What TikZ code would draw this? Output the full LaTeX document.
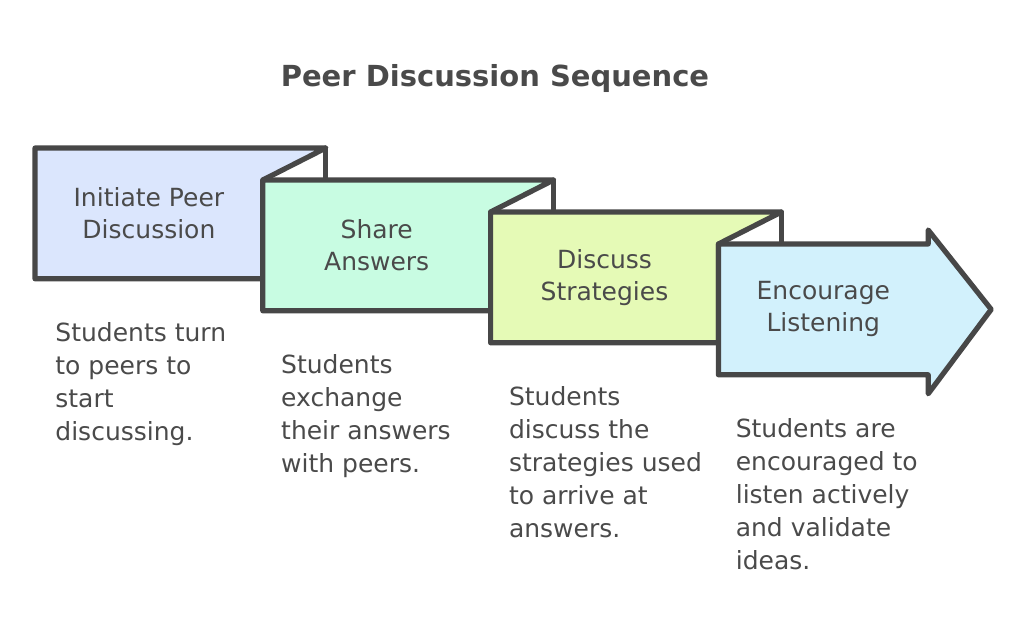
\documentclass[tikz,border=0pt]{standalone}
\usepackage{fontspec}
\setmainfont{DejaVu Sans}
\usepackage{xcolor}
\usepackage{tikz}
\usetikzlibrary{positioning,backgrounds}

\definecolor{inkgray}{HTML}{474747}
\definecolor{textgray}{HTML}{4A4A4A}
\definecolor{peerblue}{HTML}{DBE6FD}
\definecolor{sharegreen}{HTML}{C8FCE2}
\definecolor{stratlime}{HTML}{E5FAB6}
\definecolor{listencyan}{HTML}{D2F1FC}

\begin{document}
\begin{tikzpicture}[text=textgray]
  \tikzstyle{stepbox}=[minimum width=113.5pt,minimum height=65pt,inner sep=0pt,align=center,font=\fontsize{12.5}{16}\selectfont]
  \tikzstyle{note}=[inner sep=0pt,align=left,font=\fontsize{12.5}{16.5}\selectfont]
  \tikzstyle{flap}=[draw=inkgray,line width=2.6pt,line join=round,line cap=round]

  \useasboundingbox (0,0) rectangle (512pt,-318pt);

  % Title
  \node[font=\fontsize{14.5}{18}\selectfont\bfseries,anchor=base] (title) at (247.5pt,-43.5pt) {Peer Discussion Sequence};

  % Steps
  \node[stepbox,anchor=north west] (initiate) at (17.5pt,-74pt) {Initiate Peer\\Discussion};
  \node[stepbox] (share) [below right=16pt and 0pt of initiate.north east] {Share\\Answers};
  \node[stepbox] (strategies) [below right=16pt and 0pt of share.north east] {Discuss\\Strategies};
  \node[stepbox,minimum width=104.5pt] (listen) [below right=16pt and 0pt of strategies.north east] {Encourage\\Listening};

  % Folded boxes behind the text
  \begin{pgfonlayer}{background}
    \foreach \a/\b/\c in {initiate/share/peerblue, share/strategies/sharegreen, strategies/listen/stratlime} {
      \coordinate (\a fold) at ([xshift=31.5pt]\a.north east);
      \filldraw[flap,fill=\c] (\a.north west) -- (\a fold) -- (\b.north west) -- (\a.south east) -- (\a.south west) -- cycle;
      \draw[flap] (\a fold) -- (\a fold |- \b.north);
    }
    % last step is an arrow
    \filldraw[flap,fill=listencyan] (listen.north west) -- (listen.north east) -- ++(0,7pt)
      -- ([xshift=31.5pt]listen.east) -- ([yshift=-9.5pt]listen.south east) -- (listen.south east)
      -- (listen.south west) -- cycle;
  \end{pgfonlayer}

  % Descriptions
  \node[note] (initiate text) [below right=21.5pt and 10pt of initiate.south west] {Students turn\\to peers to\\start\\discussing.};
  \node[note] (share text) [below right=21.5pt and 9pt of share.south west] {Students\\exchange\\their answers\\with peers.};
  \node[note] (strategies text) [below right=21.5pt and 9pt of strategies.south west] {Students\\discuss the\\strategies used\\to arrive at\\answers.};
  \node[note] (listen text) [below right=21.5pt and 8.5pt of listen.south west] {Students are\\encouraged to\\listen actively\\and validate\\ideas.};
\end{tikzpicture}
\end{document}
